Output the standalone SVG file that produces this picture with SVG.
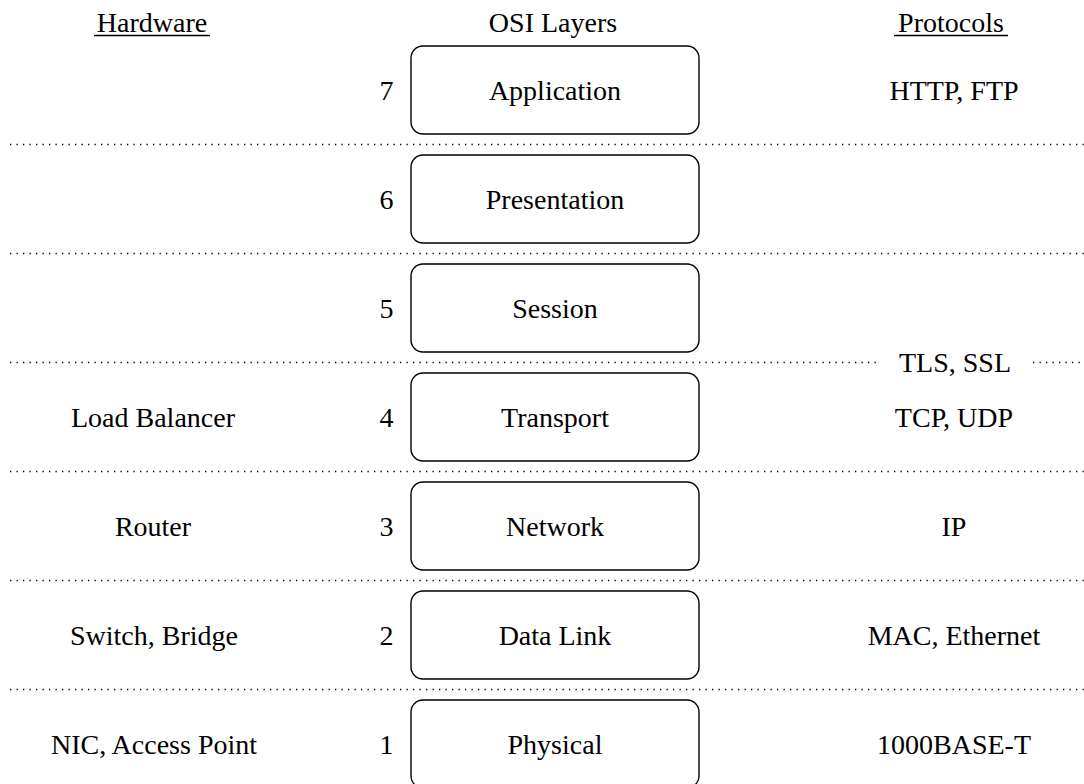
<svg xmlns="http://www.w3.org/2000/svg" width="1084" height="784" viewBox="0 0 1084 784">
  <style>
    text { font-size: 28px; fill: #000; text-anchor: middle; }
    .layer rect { fill: #fff; stroke: #000; stroke-width: 1.4; }
    .sep { stroke: #000; stroke-width: 1.3; stroke-dasharray: 1.3 5.2; fill: none; }
    .ul { stroke: #000; stroke-width: 1.4; }
  </style>
  <rect width="1084" height="784" fill="#fff"/>

  <g font-family="'Liberation Serif', 'Times New Roman', 'DejaVu Serif', serif">
  <!-- column headings -->
  <g id="headings">
    <text x="152" y="32">Hardware</text>
    <line class="ul" x1="94" y1="35.5" x2="210" y2="35.5"/>
    <text x="553" y="32">OSI Layers</text>
    <text x="951" y="32">Protocols</text>
    <line class="ul" x1="894" y1="35.5" x2="1008" y2="35.5"/>
  </g>

  <!-- dotted separators between layers -->
  <g id="separators">
    <line class="sep" x1="10" y1="144.5" x2="1084" y2="144.5"/>
    <line class="sep" x1="10" y1="253.5" x2="1084" y2="253.5"/>
    <line class="sep" x1="10" y1="362.5" x2="878" y2="362.5"/>
    <line class="sep" x1="1033" y1="362.5" x2="1084" y2="362.5"/>
    <line class="sep" x1="10" y1="471.5" x2="1084" y2="471.5"/>
    <line class="sep" x1="10" y1="580.5" x2="1084" y2="580.5"/>
    <line class="sep" x1="10" y1="689.5" x2="1084" y2="689.5"/>
  </g>

  <!-- OSI layers -->
  <g id="layer7" class="layer">
    <rect x="411" y="46" width="288" height="88" rx="12"/>
    <text x="555" y="100">Application</text>
    <text x="386.5" y="100">7</text>
    <text x="954" y="100">HTTP, FTP</text>
  </g>
  <g id="layer6" class="layer">
    <rect x="411" y="155" width="288" height="88" rx="12"/>
    <text x="555" y="209">Presentation</text>
    <text x="386.5" y="209">6</text>
  </g>
  <g id="layer5" class="layer">
    <rect x="411" y="264" width="288" height="88" rx="12"/>
    <text x="555" y="318">Session</text>
    <text x="386.5" y="318">5</text>
  </g>
  <g id="tls">
    <text x="955" y="372">TLS, SSL</text>
  </g>
  <g id="layer4" class="layer">
    <rect x="411" y="373" width="288" height="88" rx="12"/>
    <text x="555" y="427">Transport</text>
    <text x="386.5" y="427">4</text>
    <text x="153" y="427">Load Balancer</text>
    <text x="954" y="427">TCP, UDP</text>
  </g>
  <g id="layer3" class="layer">
    <rect x="411" y="482" width="288" height="88" rx="12"/>
    <text x="555" y="536">Network</text>
    <text x="386.5" y="536">3</text>
    <text x="153" y="536">Router</text>
    <text x="954" y="536">IP</text>
  </g>
  <g id="layer2" class="layer">
    <rect x="411" y="591" width="288" height="88" rx="12"/>
    <text x="555" y="645">Data Link</text>
    <text x="386.5" y="645">2</text>
    <text x="154" y="645">Switch, Bridge</text>
    <text x="954" y="645">MAC, Ethernet</text>
  </g>
  <g id="layer1" class="layer">
    <rect x="411" y="700" width="288" height="88" rx="12"/>
    <text x="555" y="754">Physical</text>
    <text x="386.5" y="754">1</text>
    <text x="154" y="754">NIC, Access Point</text>
    <text x="954" y="754">1000BASE-T</text>
  </g>
  </g>
</svg>
